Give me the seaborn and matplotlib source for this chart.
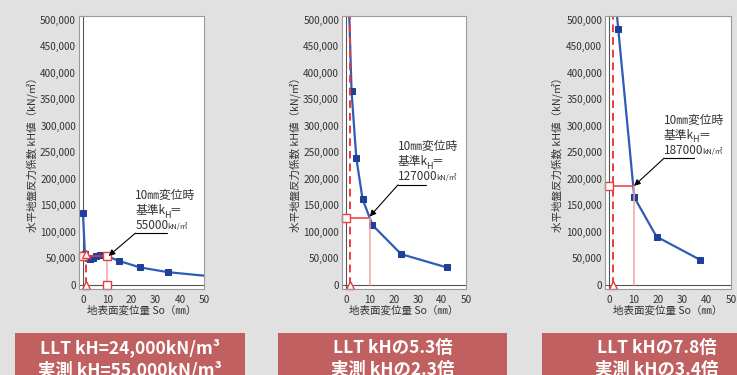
import matplotlib
matplotlib.use("Agg")
import matplotlib.pyplot as plt
from matplotlib.patches import Rectangle
from matplotlib.ticker import FuncFormatter, MultipleLocator
import seaborn as sns

# measured curves: surface displacement So (mm) vs kH (kN/m3)
disp_1 = [0, 0.8, 2, 3, 4, 5.5, 7, 8.5, 10, 15, 23.5, 35, 52]
kh_1 = [135000, 58000, 50000, 48000, 51000, 55000, 57000, 57000, 54000,
        45000, 33000, 24000, 16500]
disp_2 = [1.0, 2.3, 4.3, 6.9, 11, 23, 42]
kh_2 = [560000, 365000, 239000, 162000, 113000, 58000, 33000]
disp_3 = [3.0, 3.7, 10.3, 19.4, 37.4]
kh_3 = [517000, 483000, 165000, 91000, 47000]

# reference kH at 10mm
ref_disp = 10
ref_kh = [55000, 127000, 187000]
ref_label = ["55000", "127000", "187000"]
# LLT dashed line
llt_disp = [1.4, 1.6, 1.5]
llt_top = [58000, 520000, 520000]

x_ticks = [0, 10, 20, 30, 40, 50]
box_line1 = ["LLT kH=24,000kN/m³", "LLT kHの5.3倍", "LLT kHの7.8倍"]
box_line2 = ["実測 kH=55,000kN/m³", "実測 kHの2.3倍", "実測 kHの3.4倍"]

sns.set_style("white")
plt.rcParams["font.family"] = ["Noto Sans CJK JP", "DejaVu Sans"]

BG = "#e1e1e1"
TXT = "#333333"
BLUE = "#2f5cb6"
RED = "#ee3b3b"
PINK = "#f4a3a3"

fig = plt.figure(figsize=(7.37, 3.75), dpi=100, facecolor=BG)
lefts = [0.107, 0.464, 0.821]
widths = [0.170, 0.168, 0.171]
# annotation layout: text x, first baseline, arrow start, arrow tip
ann = [
    dict(tx=21.6, ty=161500, ux=34.6, uy=97500, ax_=10.6, ay=54700),
    dict(tx=21.7, ty=254000, ux=33.4, uy=188700, ax_=9.9, ay=129000),
    dict(tx=22.5, ty=304000, ux=34.9, uy=239000, ax_=10.2, ay=186800),
]
series = [(disp_1, kh_1), (disp_2, kh_2), (disp_3, kh_3)]


def text_line(ax, x, y, parts):
    prev = None
    for txt, size, dx, dy in parts:
        if prev is None:
            prev = ax.text(x, y, txt, fontsize=size, color=TXT,
                           ha="left", va="baseline")
        else:
            prev = ax.annotate(txt, xy=(1, y), xycoords=(prev, "data"),
                               xytext=(dx, dy), textcoords="offset points",
                               fontsize=size, color=TXT,
                               ha="left", va="baseline")
    return prev


for i in range(3):
    ax = fig.add_axes([lefts[i], 0.229, widths[i], 0.728])
    ax.set_facecolor("white")
    ax.set_xlim(-1.7, 50)
    ax.set_ylim(-8000, 507000)

    xs, ys = series[i]
    sns.lineplot(x=xs, y=ys, ax=ax, sort=False, estimator=None, color=BLUE,
                 lw=1.6, marker="s", markersize=4, markerfacecolor="#1f3f9a",
                 markeredgecolor="#1f3f9a", zorder=3)

    r = ref_kh[i]
    # red guide lines
    ax.plot([0, ref_disp], [r, r], color=RED, lw=1.1, zorder=4)
    ax.plot([ref_disp, ref_disp], [0, r], color=PINK, lw=1.1, zorder=4)
    ax.plot([llt_disp[i], llt_disp[i]], [0, llt_top[i]], color=RED, lw=1.4,
            ls=(0, (4, 2.5)), zorder=4)
    mk = dict(ls="none", markerfacecolor="white", markeredgecolor=RED,
              markeredgewidth=1.0, zorder=5, clip_on=False)
    ax.plot([0], [r], marker="s", markersize=5.3, **mk)
    ax.plot([llt_disp[i]], [0], marker="^", markersize=5.3, **mk)
    if i == 0:
        ax.plot([ref_disp, ref_disp], [r, 0], marker="s", markersize=5.3, **mk)
        ax.plot([llt_disp[i]], [llt_top[i]], marker="^", markersize=5.3, **mk)

    # annotation
    a = ann[i]
    gap = 28500
    text_line(ax, a["tx"], a["ty"], [("10㎜変位時", 8.5, 0, 0)])
    text_line(ax, a["tx"], a["ty"] - gap,
              [("基準k", 8.5, 0, 0), ("H", 6.5, -1.2, -2.5),
               ("＝", 8.5, -0.8, 0)])
    text_line(ax, a["tx"], a["ty"] - 2 * gap,
              [(ref_label[i], 8.5, 0, 0), ("kN/㎡", 5.5, -1.2, 0)])
    ax.plot([a["tx"], a["ux"]], [a["uy"], a["uy"]], color="black", lw=0.8,
            zorder=6)
    ax.annotate("", xy=(a["ax_"], a["ay"]), xytext=(a["tx"], a["uy"]),
                arrowprops=dict(arrowstyle="-|>", color="black", lw=0.8,
                                mutation_scale=9, shrinkA=0, shrinkB=0),
                zorder=6)

    # axes styling
    for s in ["top", "right"]:
        ax.spines[s].set_visible(False)
    ax.spines["left"].set_position(("data", 0))
    ax.spines["bottom"].set_position(("data", 0))
    for s in ["left", "bottom"]:
        ax.spines[s].set_color("#555555")
        ax.spines[s].set_linewidth(0.8)
    ax.add_patch(Rectangle((0, 0), 1, 1, transform=ax.transAxes, fill=False,
                           edgecolor="#9a9a9a", lw=0.8, clip_on=False,
                           zorder=10))
    ax.set_xticks(x_ticks)
    ax.xaxis.set_minor_locator(MultipleLocator(2))
    ax.yaxis.set_major_locator(MultipleLocator(50000))
    ax.yaxis.set_major_formatter(FuncFormatter(lambda v, p: f"{v:,.0f}"))
    ax.tick_params(axis="both", which="both", direction="in", colors="#555555",
                   labelcolor=TXT, labelsize=7.2, width=0.7)
    ax.tick_params(axis="y", which="major", length=3, pad=5)
    ax.tick_params(axis="x", which="major", length=3, pad=7)
    ax.tick_params(axis="x", which="minor", length=2)

    ax.set_xlabel("地表面変位量 So（㎜）", fontsize=7.6, color=TXT)
    ax.set_ylabel("水平地盤反力係数 kH値（kN/㎡）", fontsize=7.6, color=TXT)
    ax.xaxis.set_label_coords(0.5, -0.06)
    ax.yaxis.set_label_coords(-0.33, 0.5)

# bottom summary boxes
box_x = [15, 278, 542]
box_w = [230, 229, 230]
text_cx = [130, 392.5, 657]
for i in range(3):
    fig.patches.append(Rectangle((box_x[i] / 737, 0), box_w[i] / 737,
                                 (375 - 333) / 375, transform=fig.transFigure,
                                 facecolor="#c06060", edgecolor="none"))
    fig.text(text_cx[i] / 737, 1 - 348 / 375, box_line1[i], fontsize=12.5,
             color="white", weight="bold", ha="center", va="center")
    fig.text(text_cx[i] / 737, 1 - 370 / 375, box_line2[i], fontsize=12.5,
             color="white", weight="bold", ha="center", va="center")

fig.savefig("out.png", dpi=100, facecolor=BG)
